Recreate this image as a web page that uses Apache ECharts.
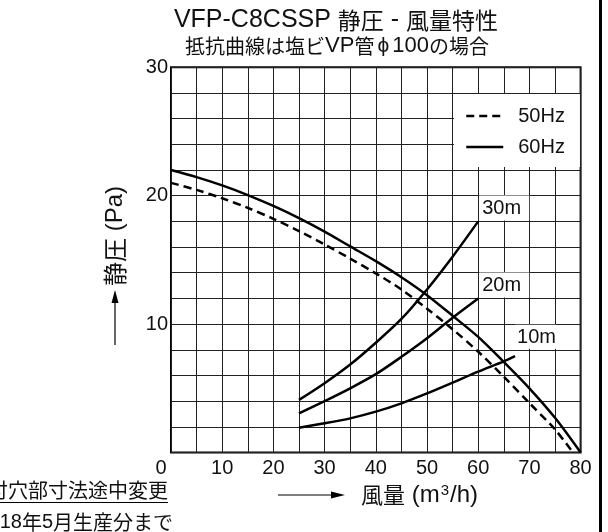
<!DOCTYPE html>
<html><head><meta charset="utf-8">
<script src="https://cdn.jsdelivr.net/npm/echarts@6/dist/echarts.min.js"></script>
<style>html,body{margin:0;padding:0;background:#fff}#c{width:608px;height:532px}</style>
</head><body><div id="c"></div>
<script>
const FONT = '"Liberation Sans", "Noto Sans CJK JP", sans-serif';
const CJK = '"Noto Sans CJK JP", sans-serif';

// tick labels
const xTickLabels = [0, 10, 20, 30, 40, 50, 60, 70, 80];
const yTickLabels = [10, 20, 30];

// fan curves (flow m3/h, static pressure Pa)
const fan50Flow = [0, 5, 10, 15, 20, 25, 30, 35, 40, 45, 50, 55, 60, 65, 70, 75, 78.5];
const fan50Pres = [21.0, 20.45, 19.8, 19.05, 18.2, 17.25, 16.2, 15.1, 13.95, 12.7, 11.2, 9.6, 7.85, 5.9, 3.85, 1.8, 0];
const fan60Flow = [0, 5, 10, 15, 20, 25, 30, 35, 40, 45, 50, 55, 60, 65, 70, 75, 80];
const fan60Pres = [22.0, 21.45, 20.8, 20.05, 19.2, 18.25, 17.2, 16.05, 14.9, 13.65, 12.25, 10.65, 9.0, 7.05, 5.0, 2.7, 0];

// resistance curves
const res30Flow = [25, 30, 35, 40, 45, 50, 55, 60];
const res30Pres = [4.1, 5.4, 6.85, 8.55, 10.4, 12.7, 15.25, 18.0];
const res20Flow = [25, 30, 35, 40, 45, 50, 55, 60];
const res20Pres = [3.05, 4.0, 5.0, 6.1, 7.45, 8.9, 10.5, 12.0];
const res10Flow = [25, 30, 35, 40, 45, 50, 55, 60, 65, 67.2];
const res10Pres = [1.93, 2.27, 2.66, 3.18, 3.83, 4.6, 5.44, 6.3, 7.1, 7.5];

const seriesNames = ['50Hz', '60Hz'];
const resNames = ['30m', '20m', '10m'];

const pairs = (xs, ys) => xs.map((x, i) => [x, ys[i]]);

const chart = echarts.init(document.getElementById('c'), null, {renderer: 'canvas'});

const lineBase = {type: 'line', smooth: 0.3, symbol: 'none', silent: true};
const resLabel = (text, off, pad, w) => ({
  show: true, formatter: text, distance: 0, align: 'left', verticalAlign: 'bottom',
  offset: off, backgroundColor: '#fff', padding: pad, width: w, height: 21,
  fontSize: 20, fontFamily: FONT, color: '#111', lineHeight: 21
});
const L = (size) => ({fontSize: size, fontFamily: '"Liberation Sans", sans-serif', fill: '#111'});
const C = (size) => ({fontSize: size, fontFamily: CJK, fill: '#111'});

chart.setOption({
  animation: false,
  backgroundColor: '#fff',
  grid: {left: 171, right: 27.4, top: 67.3, bottom: 79.5, show: true, borderColor: '#000', borderWidth: 2, backgroundColor: 'transparent'},
  xAxis: {
    type: 'value', min: 0, max: 80, interval: 5,
    axisLine: {show: false}, axisTick: {show: false},
    splitLine: {show: true, lineStyle: {color: '#222', width: 1}},
    axisLabel: {
      margin: 6, fontSize: 20, fontFamily: FONT, color: '#111',
      formatter: v => xTickLabels.includes(v) ? (v === 0 ? '{z|0}' : String(v)) : '',
      rich: {z: {fontSize: 20, fontFamily: FONT, color: '#111', padding: [0, 20, 0, 0]}}
    }
  },
  yAxis: {
    type: 'value', min: 0, max: 30, interval: 2,
    axisLine: {show: false}, axisTick: {show: false},
    splitLine: {show: true, lineStyle: {color: '#222', width: 1}},
    axisLabel: {
      margin: 3, fontSize: 20, fontFamily: FONT, color: '#111',
      formatter: v => yTickLabels.includes(v) ? String(v) : ''
    }
  },
  legend: {
    data: seriesNames, orient: 'vertical', left: 454, top: 94,
    backgroundColor: '#fff', padding: [12, 15, 10, 11],
    itemWidth: 37, itemHeight: 14, itemGap: 11, selectedMode: false,
    lineStyle: {width: 2.5}, itemStyle: {opacity: 0},
    textStyle: {fontSize: 20, fontFamily: FONT, color: '#111', padding: [0, 0, 0, 10], lineHeight: 20}
  },
  series: [
    Object.assign({}, lineBase, {name: seriesNames[0], data: pairs(fan50Flow, fan50Pres),
      lineStyle: {color: '#000', width: 2.5, type: [8, 5]}, itemStyle: {color: '#000'}}),
    Object.assign({}, lineBase, {name: seriesNames[1], data: pairs(fan60Flow, fan60Pres),
      lineStyle: {color: '#000', width: 2.5}, itemStyle: {color: '#000'}}),
    Object.assign({}, lineBase, {name: resNames[0], data: pairs(res30Flow, res30Pres),
      lineStyle: {color: '#000', width: 2.5}, itemStyle: {color: '#000'},
      endLabel: resLabel(resNames[0], [1, -1], [3, 3, 1, 3], 44)}),
    Object.assign({}, lineBase, {name: resNames[1], data: pairs(res20Flow, res20Pres),
      lineStyle: {color: '#000', width: 2.5}, itemStyle: {color: '#000'},
      endLabel: resLabel(resNames[1], [1, -1], [3, 3, 1, 3], 44)}),
    Object.assign({}, lineBase, {name: resNames[2], data: pairs(res10Flow, res10Pres),
      lineStyle: {color: '#000', width: 2.5}, itemStyle: {color: '#000'},
      endLabel: resLabel(resNames[2], [0, -7.5], [2, 1, 1, 2], 38)})
  ],
  graphic: [
    {type: 'text', x: 336, y: 20, style: {
      text: '{l|VFP-C8CSSP }{c|静圧}{l| - }{c|風量特性}', align: 'center', verticalAlign: 'middle',
      rich: {l: L(25), c: C(23)}
    }},
    {type: 'text', x: 337, y: 46, style: {
      text: '{c|抵抗曲線は塩ビ}{l|VP}{c|管}{p|ϕ}{l|100}{c|の場合}', align: 'center', verticalAlign: 'middle',
      rich: {l: L(22), c: C(20), p: Object.assign(L(21), {padding: [0, 3, 0, 3]})}
    }},
    {type: 'text', x: 115, y: 236, rotation: Math.PI / 2, style: {
      text: '{c|静圧}{l| (Pa)}', align: 'center', verticalAlign: 'middle',
      rich: {l: L(24), c: C(24)}
    }},
    {type: 'line', shape: {x1: 115, y1: 345, x2: 115, y2: 300}, style: {stroke: '#000', lineWidth: 1.2}},
    {type: 'polygon', shape: {points: [[115, 290], [111.5, 303], [118.5, 303]]}, style: {fill: '#000'}},
    {type: 'line', shape: {x1: 278, y1: 495, x2: 334, y2: 495}, style: {stroke: '#000', lineWidth: 1.2}},
    {type: 'polygon', shape: {points: [[345, 495], [331, 491.5], [331, 498.5]]}, style: {fill: '#000'}},
    {type: 'text', x: 361, y: 495, style: {
      text: '{c|風量}{l| (m}{s|3}{l|/h)}', align: 'left', verticalAlign: 'middle',
      rich: {c: C(22), l: L(24), s: Object.assign(L(15), {padding: [0, 1, 9, 1]})}
    }},
    {type: 'text', x: 168, y: 490, style: {text: '取付穴部寸法途中変更', fontSize: 20, fontFamily: CJK, fill: '#111', align: 'right', verticalAlign: 'middle'}},
    {type: 'line', shape: {x1: 0, y1: 502.5, x2: 168, y2: 502.5}, style: {stroke: '#000', lineWidth: 1.2}},
    {type: 'text', x: 173, y: 522, style: {
      text: '{l|2018}{c|年}{l|5}{c|月生産分まで}', align: 'right', verticalAlign: 'middle',
      rich: {l: L(20), c: C(20)}
    }},
    {type: 'rect', shape: {x: 599, y: 0, width: 3, height: 532}, style: {fill: '#000'}}
  ]
});
</script></body></html>
